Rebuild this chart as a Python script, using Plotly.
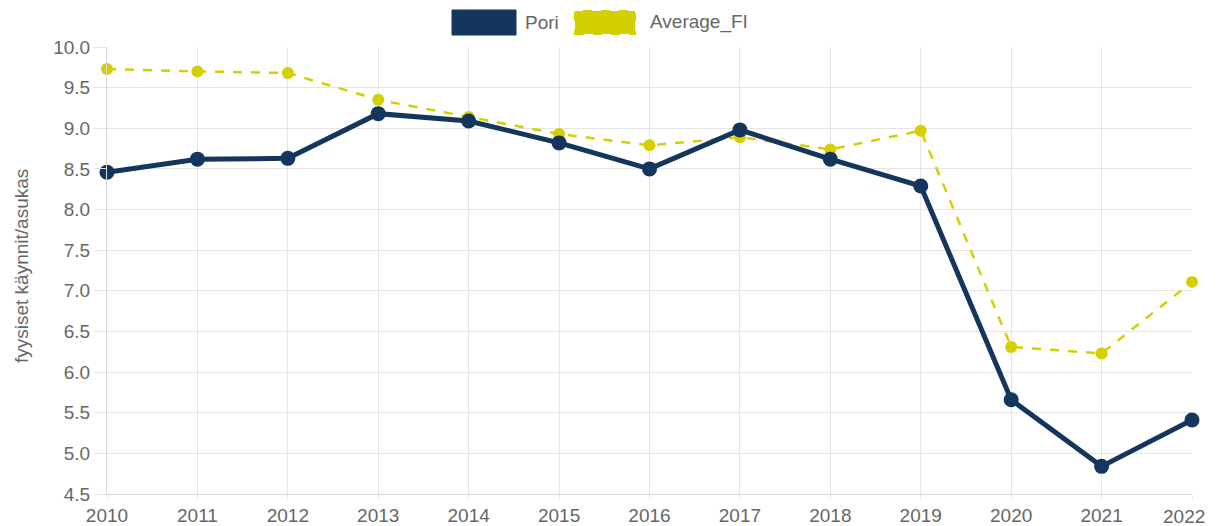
import plotly.graph_objects as go

years = [2010, 2011, 2012, 2013, 2014, 2015, 2016, 2017, 2018, 2019, 2020, 2021, 2022]
pori = [8.46, 8.62, 8.63, 9.18, 9.09, 8.82, 8.50, 8.98, 8.62, 8.29, 5.66, 4.84, 5.41]
average_fi = [9.73, 9.70, 9.68, 9.35, 9.14, 8.93, 8.79, 8.89, 8.74, 8.97, 6.31, 6.23, 7.11]
y_ticks = [4.5, 5.0, 5.5, 6.0, 6.5, 7.0, 7.5, 8.0, 8.5, 9.0, 9.5, 10.0]

NAVY = "#14365D"
YELLOW = "#D4CF00"
FONT = "Liberation Sans, Arial, sans-serif"
GREY = "#666666"
FS = 19

fig = go.Figure()
fig.add_trace(go.Scatter(x=years, y=average_fi, name="Average_FI", mode="lines+markers",
                         line=dict(color=YELLOW, width=2.5, dash="dash"),
                         marker=dict(color=YELLOW, size=12), showlegend=False, cliponaxis=False))
fig.add_trace(go.Scatter(x=years, y=pori, name="Pori", mode="lines+markers",
                         line=dict(color=NAVY, width=5),
                         marker=dict(color=NAVY, size=15), showlegend=False, cliponaxis=False))

# browser body margin of 8px offsets the figure
OFF = 8
SW, SH = 1219, 526           # screen size
L, R, T, B = 107, 27, 47, 32  # plot area in screen pixels
W, H = SW - OFF, SH - OFF
pw, ph = SW - L - R, SH - T - B

def px(x):
    return (x - L) / pw

def py(y):
    return (SH - B - y) / ph

shapes = [
    dict(type="rect", xref="paper", yref="paper", x0=px(452), x1=px(516), y0=py(35), y1=py(10),
         fillcolor=NAVY, line=dict(color=NAVY, width=1)),
    dict(type="rect", xref="paper", yref="paper", x0=px(575), x1=px(635), y0=py(34), y1=py(11),
         fillcolor=YELLOW, line=dict(color=YELLOW, width=2, dash="dash")),
]
annotations = [
    dict(text="Pori", xref="paper", yref="paper", x=px(523), y=py(22), xanchor="left", yanchor="middle",
         showarrow=False, font=dict(family=FONT, size=FS, color=GREY)),
    dict(text="Average_FI", xref="paper", yref="paper", x=px(648), y=py(22), xanchor="left", yanchor="middle",
         showarrow=False, font=dict(family=FONT, size=FS, color=GREY)),
    dict(text="fyysiset käynnit/asukas", xref="paper", yref="paper", x=px(21), y=py(266),
         xanchor="center", yanchor="middle", textangle=-90,
         showarrow=False, font=dict(family=FONT, size=FS, color=GREY)),
    # last x label is pulled inside the chart, as in the reference
    dict(text=str(years[-1]), xref="paper", yref="paper", x=px(1184), y=py(517),
         xanchor="center", yanchor="middle",
         showarrow=False, font=dict(family=FONT, size=FS, color=GREY)),
]

ticktext = [str(y) for y in years[:-1]] + [""]

fig.update_layout(
    width=W, height=H,
    margin=dict(l=L - OFF, r=R, t=T - OFF, b=B, pad=0),
    paper_bgcolor="white", plot_bgcolor="white",
    font=dict(family=FONT, size=FS, color=GREY),
    shapes=shapes, annotations=annotations,
    xaxis=dict(range=[2010, 2022], tickvals=years, ticktext=ticktext,
               showgrid=True, gridcolor="#E5E5E5", gridwidth=1, zeroline=False, automargin=False,
               showline=True, linecolor="#D9D9D9", ticks="outside", ticklen=4, tickcolor="#E5E5E5",
               tickfont=dict(size=FS, color=GREY)),
    yaxis=dict(range=[4.5, 10.0], tickvals=y_ticks, ticktext=[f"{v:.1f}" for v in y_ticks],
               showgrid=True, gridcolor="#E5E5E5", gridwidth=1, zeroline=False, automargin=False,
               showline=True, linecolor="#D9D9D9", ticks="outside", ticklen=12, tickcolor="#E5E5E5",
               tickfont=dict(size=FS, color=GREY)),
)

fig.write_html("out.html")
